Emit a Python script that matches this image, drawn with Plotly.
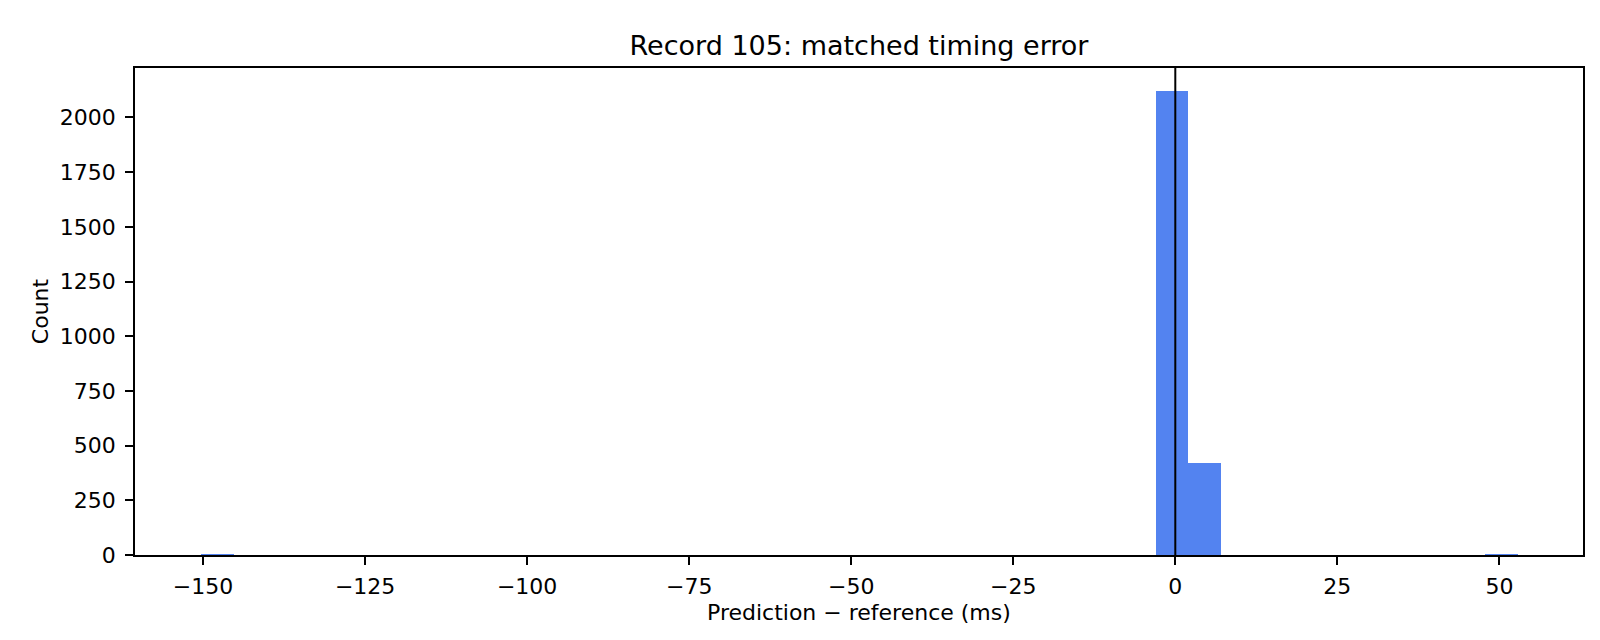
import plotly.graph_objects as go

# histogram bins (left edge, ms) and counts
bin_left = [-150.3, -3.05, 2.03, 47.72]
bin_count = [1, 2121, 421, 2]
bin_width = 5.08

x_ticks = [-150, -125, -100, -75, -50, -25, 0, 25, 50]
x_labels = ["\u2212150", "\u2212125", "\u2212100", "\u221275", "\u221250", "\u221225", "0", "25", "50"]
y_ticks = [0, 250, 500, 750, 1000, 1250, 1500, 1750, 2000]

font = dict(family="DejaVu Sans", size=22, color="black")

fig = go.Figure()
fig.add_trace(go.Bar(
    x=[b + bin_width / 2 for b in bin_left],
    y=bin_count,
    width=bin_width,
    marker=dict(color="#5383F0", line=dict(width=0)),
    showlegend=False,
))

# zero line
fig.add_shape(type="line", x0=0, x1=0, y0=0, y1=1, xref="x", yref="paper",
              line=dict(color="black", width=2))

# x axis label placed by hand (plotly's standoff won't go close enough)
fig.add_annotation(text="Prediction \u2212 reference (ms)", xref="paper", yref="paper",
                   x=0.5, y=0, yshift=-57, xanchor="center", yanchor="middle",
                   showarrow=False, font=font)

fig.update_layout(
    width=1600, height=640,
    paper_bgcolor="white", plot_bgcolor="white",
    margin=dict(l=127, r=25, t=60, b=93),
    font=font,
    bargap=0,
    title=dict(text="Record 105: matched timing error", x=(127 + 1575) / 2 / 1600,
               xanchor="center", y=1 - 38 / 640, yanchor="middle", yref="container",
               font=dict(family="DejaVu Sans", size=27, color="black")),
)
fig.update_xaxes(
    range=[-160.5, 62.9], tickvals=x_ticks, ticktext=x_labels,
    showgrid=False, zeroline=False, showline=True, mirror=True,
    linecolor="black", linewidth=1.8, ticks="outside", ticklen=8, tickwidth=1.8,
    tickcolor="black", tickfont=font, ticklabelstandoff=3,
)
fig.update_yaxes(
    range=[0, 2226], tickvals=y_ticks,
    showgrid=False, zeroline=False, showline=True, mirror=True,
    linecolor="black", linewidth=1.8, ticks="outside", ticklen=8, tickwidth=1.8,
    tickcolor="black", tickfont=font, ticklabelstandoff=5,
    title=dict(text="Count", font=font, standoff=5),
)

fig.write_html("out.html")
